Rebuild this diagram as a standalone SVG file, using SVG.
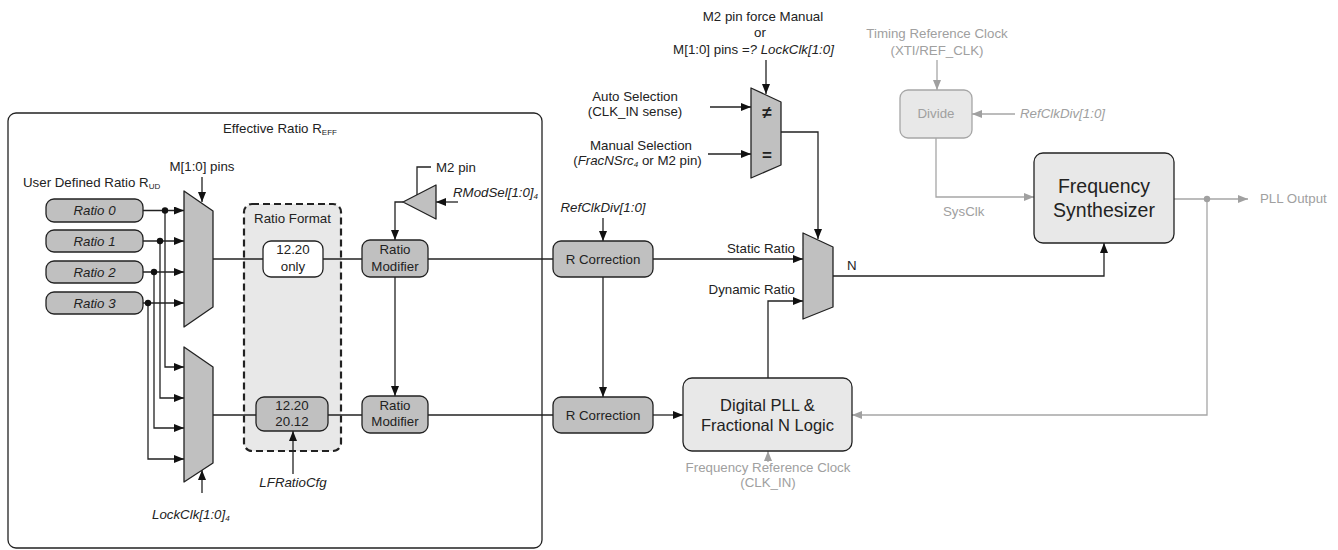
<svg xmlns="http://www.w3.org/2000/svg" width="1338" height="550" viewBox="0 0 1338 550">
<defs>
<style>
text{font-family:"Liberation Sans",Arial,sans-serif;font-size:13.3px;fill:#222}
.it{font-style:italic}
.g{fill:#a0a0a0}
.mid{text-anchor:middle}
.end{text-anchor:end}
.dark{fill:#c0c0c0;stroke:#222;stroke-width:1.3}
.light{fill:#e8e8e8;stroke:#222;stroke-width:1.3}
.gbox{fill:#e8e8e8;stroke:#a6a6a6;stroke-width:1.3}
.wbox{fill:#fff;stroke:#222;stroke-width:1.3}
.mux{fill:#c0c0c0;stroke:#222;stroke-width:1.3;stroke-linejoin:round}
.c{fill:none;stroke:#222;stroke-width:1.3}
.cg{fill:none;stroke:#a6a6a6;stroke-width:1.3}
.a{marker-end:url(#ah)}
.ag{marker-end:url(#ahg)}
.big{font-size:16.5px}
.huge{font-size:19.5px}
.sub{font-size:8px}
.sym{font-size:17px;font-weight:bold}
</style>
<marker id="ah" viewBox="0 0 10 8" refX="10" refY="4" markerWidth="10" markerHeight="8" markerUnits="userSpaceOnUse" orient="auto"><path d="M0,0 L10,4 L0,8 z" fill="#111"/></marker>
<marker id="ahg" viewBox="0 0 10 8" refX="10" refY="4" markerWidth="10" markerHeight="8" markerUnits="userSpaceOnUse" orient="auto"><path d="M0,0 L10,4 L0,8 z" fill="#a0a0a0"/></marker>
</defs>

<g id="effective-ratio">
<rect x="8" y="113" width="534" height="435" rx="8" fill="none" stroke="#222" stroke-width="1.3"/>
<text x="223" y="133">Effective Ratio R<tspan class="sub" dy="2">EFF</tspan></text>
</g>

<g id="ratio-format">
<rect x="244" y="204" width="97" height="247" rx="8" fill="#e8e8e8" stroke="#222" stroke-width="2.2" stroke-dasharray="7,4"/>
<text class="mid" x="292.5" y="223">Ratio Format</text>
</g>

<g id="connectors">
<line class="c a" x1="143" y1="210.5" x2="184" y2="210.5"/>
<line class="c a" x1="143" y1="241" x2="184" y2="241"/>
<line class="c a" x1="143" y1="272" x2="184" y2="272"/>
<line class="c a" x1="143" y1="303" x2="184" y2="303"/>
<path class="c a" d="M165,210.5 V367 H184"/>
<path class="c a" d="M160,241 V398 H184"/>
<path class="c a" d="M154,272 V428 H184"/>
<path class="c a" d="M148,303 V459 H184"/>
<circle cx="165" cy="210.5" r="3.2" fill="#111"/>
<circle cx="160" cy="241" r="3.2" fill="#111"/>
<circle cx="154" cy="272" r="3.2" fill="#111"/>
<circle cx="148" cy="303" r="3.2" fill="#111"/>
<line class="c a" x1="202" y1="177" x2="202" y2="202"/>
<line class="c a" x1="202" y1="493" x2="202" y2="470"/>
<line class="c" x1="213" y1="259" x2="263" y2="259"/>
<line class="c" x1="323" y1="259" x2="362" y2="259"/>
<line class="c" x1="213" y1="415" x2="256" y2="415"/>
<line class="c" x1="328" y1="415" x2="362" y2="415"/>
<line class="c a" x1="293" y1="474" x2="293" y2="431"/>
<path class="c" d="M431,167 H417 V195"/>
<line class="c a" x1="458" y1="202" x2="436" y2="202"/>
<path class="c a" d="M403,202 H395 V240"/>
<line class="c a" x1="395" y1="277" x2="395" y2="396"/>
<line class="c" x1="428" y1="259" x2="553" y2="259"/>
<line class="c" x1="428" y1="415" x2="553" y2="415"/>
<line class="c a" x1="603" y1="218" x2="603" y2="241"/>
<line class="c a" x1="603" y1="277" x2="603" y2="397"/>
<line class="c a" x1="653" y1="415" x2="683" y2="415"/>
<line class="c a" x1="653" y1="259" x2="803" y2="259"/>
<path class="c a" d="M768,378 V301 H803"/>
<path class="c a" d="M833,276 H1104 V243"/>
<line class="c a" x1="766" y1="60" x2="766" y2="94"/>
<line class="c a" x1="710" y1="107" x2="751" y2="107"/>
<line class="c a" x1="708" y1="154" x2="751" y2="154"/>
<path class="c a" d="M781,132 H818 V239"/>
<line class="cg ag" x1="937" y1="60" x2="937" y2="90"/>
<line class="cg ag" x1="1015" y1="114" x2="972" y2="114"/>
<path class="cg ag" d="M936,138 V197 H1034"/>
<line class="cg ag" x1="1174" y1="199" x2="1248" y2="199"/>
<path class="cg ag" d="M1207,199 V415 H852"/>
<circle cx="1207" cy="199" r="3.2" fill="#a0a0a0"/>
<line class="cg ag" x1="768" y1="462" x2="768" y2="451"/>
</g>

<g id="ratio0"><rect class="dark" x="46" y="199" width="97" height="23" rx="8"/><text class="mid it" x="94.5" y="215">Ratio 0</text></g>
<g id="ratio1"><rect class="dark" x="46" y="230" width="97" height="22" rx="8"/><text class="mid it" x="94.5" y="246">Ratio 1</text></g>
<g id="ratio2"><rect class="dark" x="46" y="261" width="97" height="22" rx="8"/><text class="mid it" x="94.5" y="277">Ratio 2</text></g>
<g id="ratio3"><rect class="dark" x="46" y="292" width="97" height="22" rx="8"/><text class="mid it" x="94.5" y="308">Ratio 3</text></g>
<g id="ud-label"><text x="23" y="187">User Defined Ratio R<tspan class="sub" dy="2">UD</tspan></text></g>

<g id="mux-upper">
<polygon class="mux" points="184,191 213,211 213,307 184,327"/>
<text class="mid" x="202" y="171">M[1:0] pins</text>
</g>
<g id="mux-lower">
<polygon class="mux" points="184,347 213,367 213,463 184,482"/>
<text class="it" x="152" y="519">LockClk[1:0]<tspan class="sub" dy="2">4</tspan></text>
</g>

<g id="fmt-1220-only"><rect class="wbox" x="263" y="241" width="60" height="36" rx="8"/><text class="mid" x="293" y="254">12.20</text><text class="mid" x="293" y="271">only</text></g>
<g id="fmt-1220-2012"><rect class="dark" x="256" y="397" width="72" height="34" rx="8"/><text class="mid" x="292" y="410">12.20</text><text class="mid" x="292" y="426">20.12</text>
<text class="mid it" x="293" y="487">LFRatioCfg</text></g>

<g id="rmod-sel">
<polygon class="mux" points="403,202 436,185 436,219"/>
<text x="436" y="172">M2 pin</text>
<text class="it" x="453" y="197">RModSel[1:0]<tspan class="sub" dy="2">4</tspan></text>
</g>

<g id="ratio-mod-upper"><rect class="dark" x="362" y="240" width="66" height="37" rx="8"/><text class="mid" x="395" y="254">Ratio</text><text class="mid" x="395" y="271">Modifier</text></g>
<g id="ratio-mod-lower"><rect class="dark" x="362" y="396" width="66" height="37" rx="8"/><text class="mid" x="395" y="410">Ratio</text><text class="mid" x="395" y="426">Modifier</text></g>

<g id="rcorr-upper"><rect class="dark" x="553" y="241" width="100" height="36" rx="8"/><text class="mid" x="603" y="263.5">R Correction</text>
<text class="mid it" x="603" y="212">RefClkDiv[1:0]</text></g>
<g id="rcorr-lower"><rect class="dark" x="553" y="397" width="100" height="36" rx="8"/><text class="mid" x="603" y="419.5">R Correction</text></g>

<g id="sel-mux">
<polygon class="mux" points="751,88 781,102 781,165 751,178"/>
<text class="mid sym" x="767" y="118">≠</text>
<text class="mid sym" x="767" y="161">=</text>
<text class="mid" x="763" y="21">M2 pin force Manual</text>
<text class="mid" x="760" y="37">or</text>
<text class="mid" x="753.5" y="54">M[1:0] pins <tspan class="it">=? LockClk[1:0]</tspan></text>
<text class="mid" x="635" y="101">Auto Selection</text>
<text class="mid" x="635" y="115.5">(CLK_IN sense)</text>
<text class="mid" x="641" y="149.5">Manual Selection</text>
<text class="mid" x="637.5" y="164.5">(<tspan class="it">FracNSrc<tspan class="sub" dy="2">4</tspan></tspan><tspan dy="-2"> or M2 pin)</tspan></text>
</g>

<g id="n-mux">
<polygon class="mux" points="803,233 833,247 833,307 803,319"/>
<text class="end" x="795" y="253">Static Ratio</text>
<text class="end" x="795" y="294">Dynamic Ratio</text>
<text x="847" y="270">N</text>
</g>

<g id="dpll">
<rect class="light" x="683" y="378" width="169" height="73" rx="9"/>
<text class="mid big" x="767.5" y="411">Digital PLL &amp;</text>
<text class="mid big" x="767.5" y="431">Fractional N Logic</text>
<text class="mid g" x="768" y="472">Frequency Reference Clock</text>
<text class="mid g" x="768" y="487">(CLK_IN)</text>
</g>

<g id="divide">
<rect class="gbox" x="900" y="90" width="72" height="48" rx="8"/>
<text class="mid g" x="936" y="118">Divide</text>
<text class="mid g" x="937" y="38">Timing Reference Clock</text>
<text class="mid g" x="937" y="55">(XTI/REF_CLK)</text>
<text class="it g" x="1020" y="118">RefClkDiv[1:0]</text>
<text class="g" x="943" y="216">SysClk</text>
</g>

<g id="freq-synth">
<rect class="light" x="1034" y="153" width="140" height="90" rx="9"/>
<text class="mid huge" x="1104" y="193">Frequency</text>
<text class="mid huge" x="1104" y="217">Synthesizer</text>
<text class="g" x="1260" y="203">PLL Output</text>
</g>
</svg>
